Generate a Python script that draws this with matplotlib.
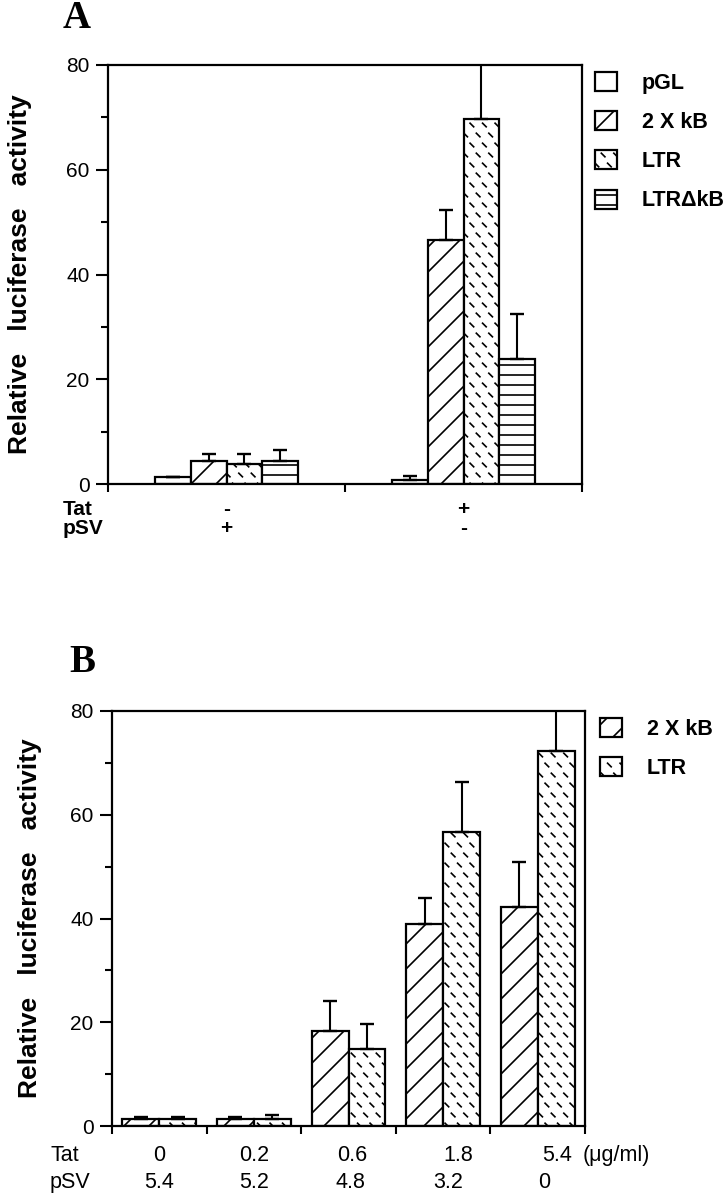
import numpy as np
import matplotlib
matplotlib.use("Agg")
import matplotlib.pyplot as plt
import matplotlib.hatch as mhatch
from matplotlib.path import Path


# short backslash dashes for the LTR bars (takes the place of the '*' hatch)
class DashHatch(mhatch.HatchPatternBase):
    def __init__(self, hatch, density):
        n = hatch.count('*')
        self.rows = 10 if n else 0
        self.cols = 8 if n else 0
        self.num_vertices = self.rows * self.cols * 2

    def set_vertices_and_codes(self, vertices, codes):
        d = 0.018
        k = 0
        for i in range(self.rows):
            y = (i + 0.5) / self.rows
            shift = 0.25 if i % 2 == 0 else 0.75
            for j in range(self.cols):
                x = (j + shift) / self.cols
                vertices[k] = (x - d, y + d)
                vertices[k + 1] = (x + d, y - d)
                codes[k] = Path.MOVETO
                codes[k + 1] = Path.LINETO
                k += 2


# a bit denser diagonals and horizontals than the default (line count must stay even)
class DiagHatch(mhatch.NorthEastHatch):
    def __init__(self, hatch, density):
        self.num_lines = int(hatch.count('/') * 8)
        self.num_vertices = (self.num_lines + 1) * 2 if self.num_lines else 0


class HorizHatch(mhatch.HorizontalHatch):
    def __init__(self, hatch, density):
        self.num_lines = int(hatch.count('-') * 10)
        self.num_vertices = self.num_lines * 2


mhatch._hatch_types = [DiagHatch if h is mhatch.NorthEastHatch else
                       HorizHatch if h is mhatch.HorizontalHatch else h
                       for h in mhatch._hatch_types if h is not mhatch.Stars] + [DashHatch]

plt.rcParams['font.family'] = ['Liberation Sans', 'DejaVu Sans']
plt.rcParams['hatch.linewidth'] = 1.2

# ---- panel A data ----
constructs_a = ["pGL", "2 X kB", "LTR", "LTR\u0394kB"]
tat_a = ["-", "+"]
psv_a = ["+", "-"]
pgl_a = [1.3, 0.7]
pgl_err_a = [0.0, 0.8]
kb_a = [4.4, 46.6]
kb_err_a = [1.3, 5.8]
ltr_a = [3.9, 69.7]
ltr_err_a = [1.8, 14.0]
dkb_a = [4.4, 23.8]
dkb_err_a = [2.1, 8.6]

# ---- panel B data ----
constructs_b = ["2 X kB", "LTR"]
tat_b = ["0", "0.2", "0.6", "1.8", "5.4"]
psv_b = ["5.4", "5.2", "4.8", "3.2", "0"]
kb_b = [1.4, 1.3, 18.4, 38.9, 42.3]
kb_err_b = [0.4, 0.4, 5.7, 5.1, 8.6]
ltr_b = [1.4, 1.3, 14.8, 56.7, 72.2]
ltr_err_b = [0.4, 0.8, 4.9, 9.6, 12.0]

hatches = {"pGL": "", "2 X kB": "/", "LTR": "*", "LTR\u0394kB": "-"}

fig = plt.figure(figsize=(7.28, 12), dpi=100)
ax_a = fig.add_axes([108 / 728, 1 - 484 / 1200, 474 / 728, 419 / 1200])
ax_b = fig.add_axes([112 / 728, 1 - 1126 / 1200, 473 / 728, 415 / 1200])


def draw_bars(ax, names, series, errs, width):
    n = len(series[0])
    centers = np.arange(n) + 0.5
    k = len(series)
    for i, (name, vals, err) in enumerate(zip(names, series, errs)):
        x = centers + (i - (k - 1) / 2) * width
        ax.bar(x, vals, width=width, color="white", edgecolor="black",
               linewidth=1.6, hatch=hatches[name], label=name, zorder=2)
        ax.errorbar(x, vals, yerr=[np.zeros(n), err], fmt="none", ecolor="black",
                    elinewidth=1.5, capsize=4.7, capthick=1.7, zorder=3)
    return centers


def style_axes(ax, ngroups):
    ax.set_xlim(0, ngroups)
    ax.set_ylim(0, 80)
    ax.set_xticks(np.arange(ngroups + 1))
    ax.set_yticks([0, 20, 40, 60, 80])
    ax.set_yticks([10, 30, 50, 70], minor=True)
    ax.tick_params(axis="x", length=5.5, width=1.5, labelbottom=False)
    ax.tick_params(axis="y", which="major", length=8.4, width=1.5, pad=5, labelsize=15)
    ax.tick_params(axis="y", which="minor", length=5, width=1.5)
    for s in ax.spines.values():
        s.set_linewidth(1.6)


legend_kw = dict(loc="upper left", frameon=False, prop={"size": 15.5, "weight": "bold"},
                 handlelength=1.02, handleheight=0.98, handletextpad=1.16,
                 labelspacing=0.8, borderaxespad=0, borderpad=0.3)

# panel A
centers_a = draw_bars(ax_a, constructs_a, [pgl_a, kb_a, ltr_a, dkb_a],
                      [pgl_err_a, kb_err_a, ltr_err_a, dkb_err_a], 0.151)
style_axes(ax_a, 2)
ax_a.set_ylabel("Relative   luciferase   activity", fontsize=19, fontweight="bold")
ax_a.yaxis.set_label_coords(-0.16, 0.5)
ax_a.legend(bbox_to_anchor=(1.014, 0.998), **legend_kw)
xa = ax_a.get_xaxis_transform()
for c, t, p in zip(centers_a, tat_a, psv_a):
    ax_a.text(c, -0.062, t, transform=xa, ha="center", va="center", fontsize=15, fontweight="bold")
    ax_a.text(c, -0.107, p, transform=xa, ha="center", va="center", fontsize=15, fontweight="bold")
ax_a.text(-0.095, -0.062, "Tat", transform=ax_a.transAxes, ha="left", va="center",
          fontsize=15, fontweight="bold")
ax_a.text(-0.095, -0.107, "pSV", transform=ax_a.transAxes, ha="left", va="center",
          fontsize=15, fontweight="bold")

# panel B
centers_b = draw_bars(ax_b, constructs_b, [kb_b, ltr_b], [kb_err_b, ltr_err_b], 0.39)
style_axes(ax_b, 5)
ax_b.set_ylabel("Relative   luciferase   activity", fontsize=19, fontweight="bold")
ax_b.yaxis.set_label_coords(-0.148, 0.5)
ax_b.legend(bbox_to_anchor=(1.018, 0.998), **legend_kw)
xb = ax_b.get_xaxis_transform()
tat_shift = [0, 0, 0.04, 0.16, 0.2]
psv_shift = [0, 0, 0.02, 0.05, 0.07]
for c, t, p, ts, ps in zip(centers_b, tat_b, psv_b, tat_shift, psv_shift):
    ax_b.text(c + ts, -0.07, t, transform=xb, ha="center", va="center", fontsize=15.5)
    ax_b.text(c + ps, -0.135, p, transform=xb, ha="center", va="center", fontsize=15.5)
ax_b.text(0.996, -0.07, "(\u03bcg/ml)", transform=ax_b.transAxes, ha="left", va="center",
          fontsize=15.5)
ax_b.text(-0.131, -0.07, "Tat", transform=ax_b.transAxes, ha="left", va="center", fontsize=15.5)
ax_b.text(-0.131, -0.135, "pSV", transform=ax_b.transAxes, ha="left", va="center", fontsize=15.5)

fig.text(77 / 728, 1 - 18 / 1200, "A", family="Liberation Serif", fontweight="bold",
         fontsize=28, ha="center", va="center")
fig.text(82 / 728, 1 - 662 / 1200, "B", family="Liberation Serif", fontweight="bold",
         fontsize=28, ha="center", va="center")

fig.savefig("out.png", dpi=100)
